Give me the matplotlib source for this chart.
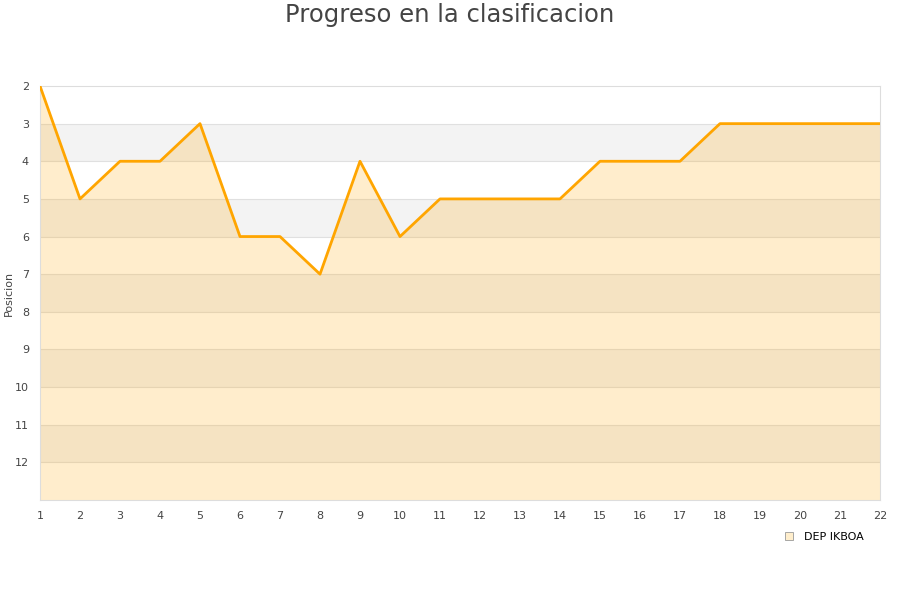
import numpy as np
import matplotlib.pyplot as plt
from matplotlib.lines import Line2D

jornadas = list(range(1, 23))
posicion = [2, 5, 4, 4, 3, 6, 6, 7, 4, 6, 5, 5, 5, 5, 4, 4, 4, 3, 3, 3, 3, 3]
equipo = "DEP IKBOA"
y_ticks = list(range(2, 13))

fig = plt.figure(figsize=(9, 6), dpi=100)
ax = fig.add_axes([40 / 900, 100 / 600, 840 / 900, 414 / 600])

ax.set_xlim(1, 22)
ax.set_ylim(13, 2)

# alternating bands
for y0 in range(3, 13, 2):
    ax.axhspan(y0, y0 + 1, color="#f3f3f3", zorder=0, lw=0)
for y in range(3, 13):
    ax.axhline(y, color="#e0e0e0", lw=0.8, zorder=1)

ax.fill_between(jornadas, posicion, 13, color="#ffa500", alpha=0.2, lw=0, zorder=2)
ax.plot(jornadas, posicion, color="#ffa500", lw=2.0, zorder=3)

ax.set_xticks(jornadas)
ax.set_yticks(y_ticks)
ax.tick_params(length=0, labelsize=8, colors="#444444")
ax.tick_params(axis="y", pad=8)
ax.tick_params(axis="x", pad=8)
for s in ax.spines.values():
    s.set_color("#dddddd")

ax.set_ylabel("Posicion", fontsize=8, color="#444444")
ax.yaxis.set_label_coords(-26 / 840, 0.5)
fig.text(0.5, 1 - 15 / 600, "Progreso en la clasificacion", ha="center", va="center",
         fontsize=17.5, color="#444444")

handle = Line2D([], [], marker="s", ls="none", markersize=6,
                markerfacecolor="#ffeecc", markeredgecolor="#999999", markeredgewidth=0.6)
fig.legend([handle], [equipo], loc="center", bbox_to_anchor=(821 / 900, 1 - 537 / 600),
           frameon=False, fontsize=8, handletextpad=0.4, borderaxespad=0)

fig.savefig("out.png", dpi=100)
